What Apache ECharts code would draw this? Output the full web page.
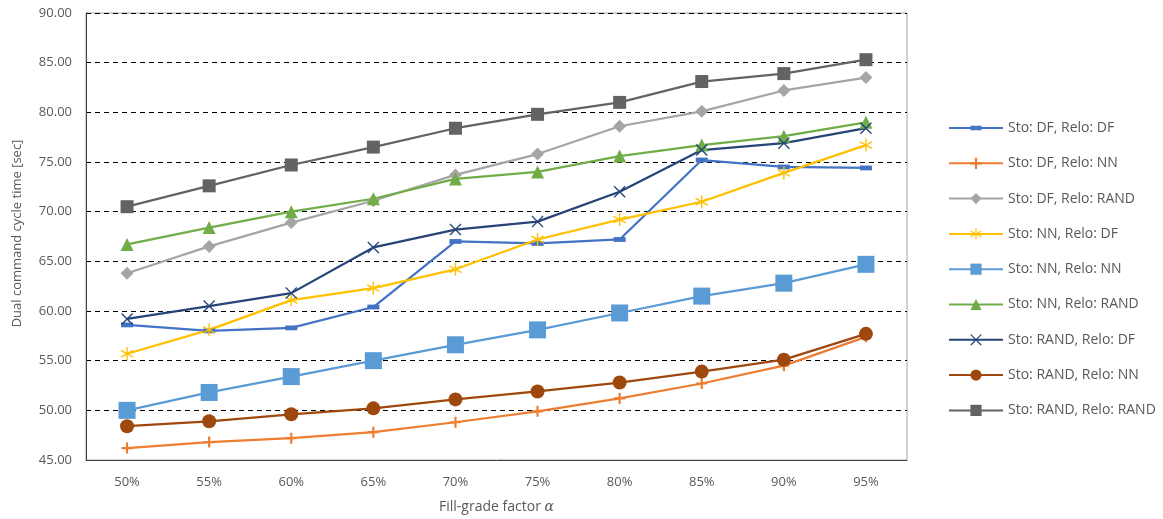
<!DOCTYPE html>
<html>
<head>
<meta charset="utf-8">
<script src="https://cdn.jsdelivr.net/npm/echarts@6/dist/echarts.min.js"></script>
<style>
  html, body { margin: 0; padding: 0; background: #fff; }
  #chart { width: 1163px; height: 519px; }
</style>
</head>
<body>
<div id="chart"></div>
<script>
// Fill-grade factor categories
const categories = ['50%', '55%', '60%', '65%', '70%', '75%', '80%', '85%', '90%', '95%'];

// Dual command cycle times [sec] per storage / relocation strategy
const stoDF_reloDF     = [58.6, 58.0, 58.3, 60.4, 67.0, 66.8, 67.2, 75.2, 74.5, 74.4];
const stoDF_reloNN     = [46.2, 46.8, 47.2, 47.8, 48.8, 49.9, 51.2, 52.7, 54.5, 57.4];
const stoDF_reloRAND   = [63.8, 66.5, 68.9, 71.1, 73.7, 75.8, 78.6, 80.1, 82.2, 83.5];
const stoNN_reloDF     = [55.7, 58.1, 61.1, 62.3, 64.2, 67.2, 69.2, 71.0, 73.9, 76.7];
const stoNN_reloNN     = [50.0, 51.8, 53.4, 55.0, 56.6, 58.1, 59.8, 61.5, 62.8, 64.7];
const stoNN_reloRAND   = [66.7, 68.4, 70.0, 71.3, 73.3, 74.0, 75.6, 76.7, 77.6, 79.0];
const stoRAND_reloDF   = [59.2, 60.5, 61.8, 66.4, 68.2, 69.0, 72.0, 76.2, 76.9, 78.4];
const stoRAND_reloNN   = [48.4, 48.9, 49.6, 50.2, 51.1, 51.9, 52.8, 53.9, 55.1, 57.7];
const stoRAND_reloRAND = [70.5, 72.6, 74.7, 76.5, 78.4, 79.8, 81.0, 83.1, 83.9, 85.3];

const seriesNames = [
  'Sto: DF, Relo: DF', 'Sto: DF, Relo: NN', 'Sto: DF, Relo: RAND',
  'Sto: NN, Relo: DF', 'Sto: NN, Relo: NN', 'Sto: NN, Relo: RAND',
  'Sto: RAND, Relo: DF', 'Sto: RAND, Relo: NN', 'Sto: RAND, Relo: RAND'
];
const seriesValues = [
  stoDF_reloDF, stoDF_reloNN, stoDF_reloRAND,
  stoNN_reloDF, stoNN_reloNN, stoNN_reloRAND,
  stoRAND_reloDF, stoRAND_reloNN, stoRAND_reloRAND
];

// Marker glyphs (leading moveTo points pad the box so flat shapes stay flat)
const dashPath = 'path://M0,0 M0,12 M0,3.6 L12,3.6 L12,8.4 L0,8.4 Z';
const plusPath = 'path://M4,0 L6,0 L6,4 L10,4 L10,6 L6,6 L6,10 L4,10 L4,6 L0,6 L0,4 L4,4 Z';
const starPath = 'path://M4.5,0 L5.5,0 L5.5,4.1 L9.1,2 L9.6,2.9 L6,5 L9.6,7.1 L9.1,8 L5.5,5.9 L5.5,10 L4.5,10 L4.5,5.9 L0.9,8 L0.4,7.1 L4,5 L0.4,2.9 L0.9,2 L4.5,4.1 Z';
const crossPath = 'path://M0.8,0 L5,4.2 L9.2,0 L10,0.8 L5.8,5 L10,9.2 L9.2,10 L5,5.8 L0.8,10 L0,9.2 L4.2,5 L0,0.8 Z';

const styles = [
  { color: '#4472C4', symbol: dashPath,   size: 12 },
  { color: '#ED7D31', symbol: plusPath,   size: 11 },
  { color: '#A5A5A5', symbol: 'diamond',  size: 13 },
  { color: '#FFC000', symbol: starPath,   size: 13 },
  { color: '#5B9BD5', symbol: 'rect',     size: 17 },
  { color: '#70AD47', symbol: 'triangle', size: 13 },
  { color: '#264478', symbol: crossPath,  size: 12 },
  { color: '#9E480E', symbol: 'circle',   size: 14 },
  { color: '#636363', symbol: 'rect',     size: 13 }
];

const font = 'Open Sans, Noto Sans, sans-serif';
const textColor = '#595959';

const chart = echarts.init(document.getElementById('chart'));
chart.setOption({
  animation: false,
  backgroundColor: '#fff',
  grid: {
    left: 86, right: 256, top: 13, bottom: 59,
    show: true, borderColor: '#a6a6a6', borderWidth: 1
  },
  legend: {
    orient: 'vertical',
    left: 943, top: 116,
    itemWidth: 54, itemHeight: 14, itemGap: 21.3,
    textStyle: { color: textColor, fontSize: 14, fontFamily: font },
    data: seriesNames
  },
  xAxis: {
    type: 'category',
    data: categories,
    boundaryGap: true,
    axisLine: { lineStyle: { color: '#404040', width: 1 } },
    axisTick: { show: false },
    axisLabel: { color: textColor, fontSize: 13, fontFamily: font, margin: 16 },
    name: '{n|Fill-grade factor }{a|α}',
    nameLocation: 'middle',
    nameGap: 40,
    nameTextStyle: {
      rich: {
        n: { color: textColor, fontSize: 14, fontFamily: font },
        a: { color: textColor, fontSize: 14, fontFamily: 'DejaVu Serif, serif', fontStyle: 'italic' }
      }
    }
  },
  yAxis: {
    type: 'value',
    min: 45, max: 90, interval: 5,
    axisLine: { show: true, lineStyle: { color: '#404040', width: 1 } },
    axisTick: { show: false },
    axisLabel: {
      color: textColor, fontSize: 13, fontFamily: font, margin: 14,
      formatter: v => v.toFixed(2)
    },
    splitLine: { lineStyle: { color: '#000', type: [5, 4], width: 1 } },
    name: 'Dual command cycle time [sec]',
    nameLocation: 'middle',
    nameGap: 62,
    nameTextStyle: { color: textColor, fontSize: 13, fontFamily: font, padding: [0, 0, 0, 6] }
  },
  series: seriesNames.map((name, i) => ({
    name,
    type: 'line',
    data: seriesValues[i],
    symbol: styles[i].symbol,
    symbolSize: styles[i].size,
    showAllSymbol: true,
    lineStyle: { color: styles[i].color, width: 2.25 },
    itemStyle: { color: styles[i].color, borderColor: styles[i].color, borderWidth: 0 },
    emphasis: { disabled: true }
  }))
});
</script>
</body>
</html>
